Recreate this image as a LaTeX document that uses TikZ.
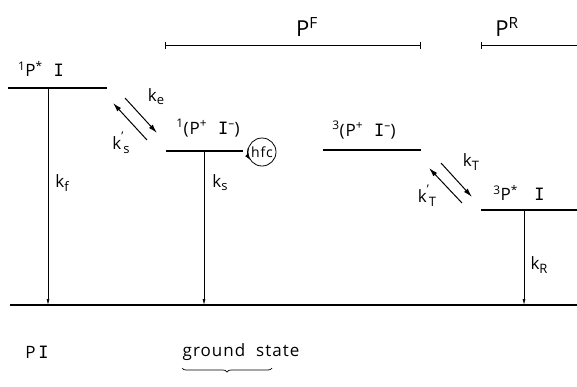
\documentclass[tikz,border=0pt]{standalone}
\usepackage{fontspec}
\setmainfont{Open Sans}[LetterSpace=6]
\newfontfamily\monof{DejaVu Sans Mono}
\usetikzlibrary{arrows.meta,decorations.pathreplacing}
\newcommand\Ib{{\monof I}}
\newcommand\ksub[1]{k\raisebox{-0.35ex}{\fontsize{13}{14}\selectfont #1}}
\newcommand\kpsub[1]{k\raisebox{0.9ex}{\fontsize{12}{14}\selectfont '}\raisebox{-0.5ex}{\fontsize{13}{14}\selectfont #1}}
\begin{document}
\begin{tikzpicture}[x=1pt,y=1pt,
  level/.style={line width=1.4pt},
  decay/.style={line width=0.7pt,-{Latex[length=6pt,width=3pt]}},
  trans/.style={line width=1pt,-{Latex[length=9pt,width=5pt]}},
  lab/.style={inner sep=0pt,font=\fontsize{17}{20}\selectfont},
  klab/.style={inner sep=0pt,font=\fontsize{17}{20}\selectfont},
  big/.style={inner sep=0pt,font=\fontsize{17}{20}\selectfont},
  huge/.style={inner sep=0pt,font=\fontsize{22}{24}\selectfont},
  bar/.style={line width=0.8pt}]
\useasboundingbox (0,0) rectangle (577,-386);
% bars
\coordinate (pf1) at (165,-45); \coordinate (pf2) at (421,-45);
\coordinate (pr1) at (481,-45); \coordinate (pr2) at (577,-45);
\draw[bar,{Bar[width=7pt]}-{Bar[width=7pt]}] (pf1) -- (pf2);
\draw[bar,{Bar[width=7pt]}-] (pr1) -- (pr2);
\node[huge] (PF) at (307,-27) {P\textsuperscript{F}};
\node[huge] (PR) at (507,-27) {P\textsuperscript{R}};
% levels
\coordinate (a1) at (8,-88); \coordinate (a2) at (107,-88);
\coordinate (b1) at (166,-151); \coordinate (b2) at (243,-151);
\coordinate (c1) at (323,-150); \coordinate (c2) at (421,-150);
\coordinate (d1) at (481,-210); \coordinate (d2) at (577,-210);
\coordinate (g1) at (10,-305); \coordinate (g2) at (577,-305);
\draw[level] (a1) -- (a2);
\draw[level] (b1) -- (b2);
\draw[level] (c1) -- (c2);
\draw[level] (d1) -- (d2);
\draw[level] (g1) -- (g2);
% level labels
\node[lab] (la) at (41,-69) {\textsuperscript{1}P\textsuperscript{*}\ \ \Ib};
\node[lab] (lb) at (208,-128) {\textsuperscript{1}(P\textsuperscript{+}\ \ \Ib\textsuperscript{–})};
\node[lab] (lc) at (364,-130) {\textsuperscript{3}(P\textsuperscript{+}\ \ \Ib\textsuperscript{–})};
\node[lab] (ld) at (519,-193) {\textsuperscript{3}P\textsuperscript{*}\ \ \ \Ib};
% decays
\coordinate (fa) at (48,-88); \coordinate (fb) at (48,-305);
\coordinate (sa) at (204,-151); \coordinate (sb) at (204,-305);
\coordinate (ra) at (524,-210); \coordinate (rb) at (524,-305);
\draw[decay] (fa) -- (fb);
\draw[decay] (sa) -- (sb);
\draw[decay] (ra) -- (rb);
\node[klab] (kf) at (62,-183) {\ksub{f}};
\node[klab] (ks) at (220,-183) {\ksub{s}};
\node[klab] (kR) at (539,-265) {\ksub{R}};
% transfers
\coordinate (e1) at (125,-98); \coordinate (e2) at (157,-133);
\coordinate (s1) at (147,-140); \coordinate (s2) at (113,-103);
\draw[trans] (e1) -- (e2);
\draw[trans] (s1) -- (s2);
\node[klab] (ke) at (156,-97) {\ksub{e}};
\node[klab] (ksp) at (121,-143) {\kpsub{s}};
\coordinate (t1) at (441,-163); \coordinate (t2) at (472,-197);
\coordinate (u1) at (462,-203); \coordinate (u2) at (429,-168);
\draw[trans] (t1) -- (t2);
\draw[trans] (u1) -- (u2);
\node[klab] (kT) at (471,-162) {\ksub{T}};
\node[klab] (kTp) at (427,-196) {\kpsub{T}};
% hfc
\node[draw,circle,line width=0.8pt,minimum size=28pt,inner sep=0pt,font=\fontsize{14}{15}\selectfont] (hfc) at (262,-152) {hfc};
\draw[line width=0.8pt,-{Latex[length=6pt,width=4pt]}] (hfc.165) arc (165:215:14pt);
% ground labels
\node[big] (PI) at (37,-352) {P\,\Ib};
\node[big] (gs) at (241,-352) {ground\ \ state};
\coordinate (br1) at (182,-368); \coordinate (br2) at (272,-368);
\draw[line width=0.7pt,decorate,decoration={brace,mirror,amplitude=4pt}] (br1) -- (br2);
\end{tikzpicture}
\end{document}
